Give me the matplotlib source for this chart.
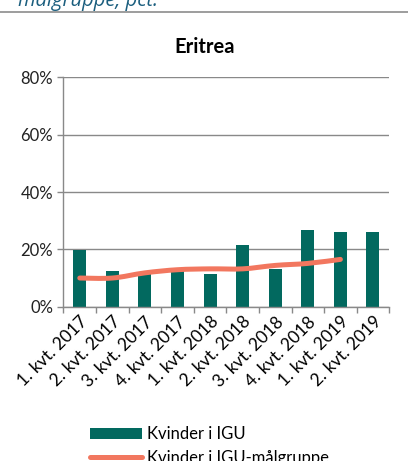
import matplotlib.pyplot as plt
import numpy as np
from matplotlib.path import Path
from matplotlib.patches import PathPatch
from matplotlib.lines import Line2D
from matplotlib.patches import Patch

plt.rcParams['font.family'] = ['Lato', 'DejaVu Sans']

quarters = ["1. kvt. 2017", "2. kvt. 2017", "3. kvt. 2017", "4. kvt. 2017",
            "1. kvt. 2018", "2. kvt. 2018", "3. kvt. 2018", "4. kvt. 2018",
            "1. kvt. 2019", "2. kvt. 2019"]
kvinder_igu = [19.8, 12.6, 11.5, 12.5, 11.5, 21.5, 13.2, 26.7, 26.0, 26.1]
kvinder_maalgruppe = [10.0, 10.0, 11.8, 12.9, 13.2, 13.2, 14.4, 15.1, 16.5]

bar_color = "#02695F"
line_color = "#F2775F"
grid_color = "#898989"

fig = plt.figure(figsize=(4.08, 4.61), dpi=100)
ax = fig.add_axes([0.1556, 0.3347, 0.7985, 0.4976])

x = np.arange(len(quarters))
ax.bar(x, kvinder_igu, width=0.4, color=bar_color, zorder=2)

# smoothed line (Excel style bezier through the points)
px = np.arange(len(kvinder_maalgruppe), dtype=float)
py = np.array(kvinder_maalgruppe, dtype=float)
verts = [(px[0], py[0])]
codes = [Path.MOVETO]
n = len(px)
for i in range(n - 1):
    p0 = np.array([px[max(i - 1, 0)], py[max(i - 1, 0)]])
    p1 = np.array([px[i], py[i]])
    p2 = np.array([px[i + 1], py[i + 1]])
    p3 = np.array([px[min(i + 2, n - 1)], py[min(i + 2, n - 1)]])
    c1 = p1 + (p2 - p0) / 6
    c2 = p2 - (p3 - p1) / 6
    verts += [tuple(c1), tuple(c2), tuple(p2)]
    codes += [Path.CURVE4] * 3
ax.add_patch(PathPatch(Path(verts, codes), fill=False, edgecolor=line_color,
                       lw=3.6, capstyle='round', zorder=3))

ax.set_ylim(0, 80)
ax.set_xlim(-0.5, len(quarters) - 0.5)
ax.set_yticks([0, 20, 40, 60, 80])
ax.set_yticklabels(["0%", "20%", "40%", "60%", "80%"])
ax.yaxis.grid(True, color=grid_color, lw=1.0, zorder=0)
ax.set_axisbelow(True)

ax.set_xticks(np.arange(-0.5, len(quarters), 1.0))
ax.set_xticklabels([])
ax.set_xticks(x, minor=True)
ax.set_xticklabels(quarters, minor=True, rotation=45, ha='right',
                   rotation_mode='anchor', fontsize=12.5)
ax.tick_params(axis='x', which='minor', length=0, pad=5)
ax.tick_params(axis='x', which='major', length=4, color=grid_color, width=1.0)
ax.tick_params(axis='y', length=4, color=grid_color, width=1.0, labelsize=12,
               labelcolor='#222222')

for s in ['top', 'right']:
    ax.spines[s].set_visible(False)
for s in ['left', 'bottom']:
    ax.spines[s].set_color(grid_color)
    ax.spines[s].set_linewidth(1.0)

fig.text(0.502, 0.898, "Eritrea", ha='center', va='center', fontsize=14.5,
         fontweight='bold')

# cropped caption from the page above
fig.text(0.044, 1.0, "målgruppe, pct.", ha='left', va='center', fontsize=14.5,
         style='italic', color='#1B5E7E', family='Open Sans')
fig.add_artist(Line2D([0, 1], [0.975, 0.975], color='#8C8C8C', lw=1.2,
                      transform=fig.transFigure))

handles = [Patch(facecolor=bar_color, edgecolor='none'),
           Line2D([], [], color=line_color, lw=3.6, solid_capstyle='round')]
fig.legend(handles, ["Kvinder i IGU", "Kvinder i IGU-målgruppe"],
           loc='upper left', bbox_to_anchor=(0.205, 0.09),
           frameon=False, fontsize=12, handlelength=3.1, handleheight=0.65,
           handletextpad=0.3, labelspacing=0.45, borderaxespad=0)

fig.savefig("out.png", dpi=100)
